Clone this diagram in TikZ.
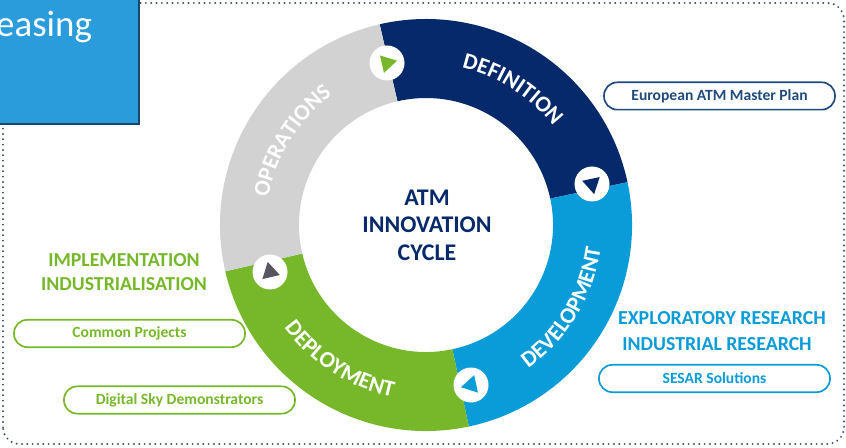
\documentclass[tikz,border=0pt]{standalone}
\usepackage{fontspec}
\setmainfont{Carlito}
\usetikzlibrary{positioning,calc,shapes.geometric,decorations.text}
\definecolor{navyring}{HTML}{06296C}
\definecolor{bluering}{HTML}{0A9BD9}
\definecolor{greenring}{HTML}{76B82A}
\definecolor{grayring}{HTML}{D2D2D2}
\definecolor{tipgray}{HTML}{55565F}
\definecolor{dotline}{HTML}{3F5078}
\definecolor{boxblue}{HTML}{2A9BDB}
\definecolor{boxedge}{HTML}{17466E}
\definecolor{pillnavy}{HTML}{1F4A80}
\tikzset{
	pill/.style={draw,line width=0.05cm,rounded corners=0.4cm,minimum width=6.93cm,minimum height=0.82cm,inner sep=0pt,font=\fontsize{13.3}{15}\bfseries},
	heading/.style={inner sep=0pt,font=\fontsize{16.9}{20}\bfseries},
	hub/.style={circle,fill=white,inner sep=0pt,minimum size=1.05cm},
	tip/.style={regular polygon,regular polygon sides=3,inner sep=0pt,minimum size=0.62cm},
	ringtext/.style={decorate,decoration={text along path,text align=center,text={|\fontsize{19.4}{21}\bfseries\color{white}|#1}}}
}
\begin{document}
\begin{tikzpicture}[x=0.03cm,y=0.03cm]
	\useasboundingbox (0,0) rectangle (846,447);
	\coordinate (c) at (426,222);

	\draw[dotline,line width=0.065cm,line cap=round,dash pattern=on 0pt off 0.16cm,rounded corners=0.5cm] (3,3) rectangle (844,444);

	\fill[navyring] ($(c)+(103:206)$) arc[start angle=103,end angle=12,radius=206] -- ($(c)+(12:127)$) arc[start angle=12,end angle=103,radius=127] -- cycle;
	\fill[bluering] ($(c)+(12:206)$) arc[start angle=12,end angle=-78,radius=206] -- ($(c)+(-78:127)$) arc[start angle=-78,end angle=12,radius=127] -- cycle;
	\fill[greenring] ($(c)+(-78:206)$) arc[start angle=-78,end angle=-167,radius=206] -- ($(c)+(-167:127)$) arc[start angle=-167,end angle=-78,radius=127] -- cycle;
	\fill[grayring] ($(c)+(-167:206)$) arc[start angle=-167,end angle=-257,radius=206] -- ($(c)+(-257:127)$) arc[start angle=-257,end angle=-167,radius=127] -- cycle;

	\path[ringtext=DEFINITION] ($(c)+(103:161)$) arc[start angle=103,end angle=12,radius=161];
	\path[ringtext=OPERATIONS] ($(c)+(193:160)$) arc[start angle=193,end angle=103,radius=160];
	\path[ringtext=DEVELOPMENT] ($(c)+(-76:176)$) arc[start angle=-76,end angle=14,radius=176];
	\path[ringtext=DEPLOYMENT] ($(c)+(193:175)$) arc[start angle=193,end angle=282,radius=175];

	\node[hub] (hubdef) at (387,384) {};
	\node[hub] (hubdev) at (592,263) {};
	\node[hub] (hubdep) at (471,62) {};
	\node[hub] (hubops) at (270,175) {};
	\node[tip,fill=greenring,shape border rotate=-77] (tipdef) at (hubdef) {};
	\node[tip,fill=navyring,shape border rotate=-168] (tipdev) at (hubdev) {};
	\node[tip,fill=bluering,shape border rotate=102] (tipdep) at (hubdep) {};
	\node[tip,fill=tipgray,shape border rotate=13] (tipops) at (hubops) {};

	\node[align=center,text=navyring,font=\fontsize{20.4}{23.5}\bfseries] (cycle) at (427,222) {ATM\\INNOVATION\\CYCLE};

	\node[pill,draw=pillnavy,text=pillnavy] (plan) at (719.5,351) {European ATM Master Plan};
	\node[heading,text=bluering] (explo) at (722,129) {EXPLORATORY RESEARCH};
	\node[heading,text=bluering] (indus) at (717,103) {INDUSTRIAL RESEARCH};
	\node[pill,draw=bluering,text=bluering] (sesar) at (714.5,68.5) {SESAR Solutions};

	\node[heading,text=greenring] (impl) at (124,187) {IMPLEMENTATION};
	\node[heading,text=greenring] (indu) at (124,163) {INDUSTRIALISATION};
	\node[pill,draw=greenring,text=greenring] (common) at (129.5,113.5) {Common Projects};
	\node[pill,draw=greenring,text=greenring] (sky) at (179.5,47) {Digital Sky Demonstrators};

	\node[draw=boxedge,fill=boxblue,line width=0.06cm,minimum width=4.4cm,minimum height=3.9cm,inner sep=0pt] (box) at (66,388) {};
	\node[anchor=base west,inner sep=0pt,text=white,font=\fontsize{31.5}{35}\selectfont] (easing) at (-4,410) {easing};
\end{tikzpicture}
\end{document}
